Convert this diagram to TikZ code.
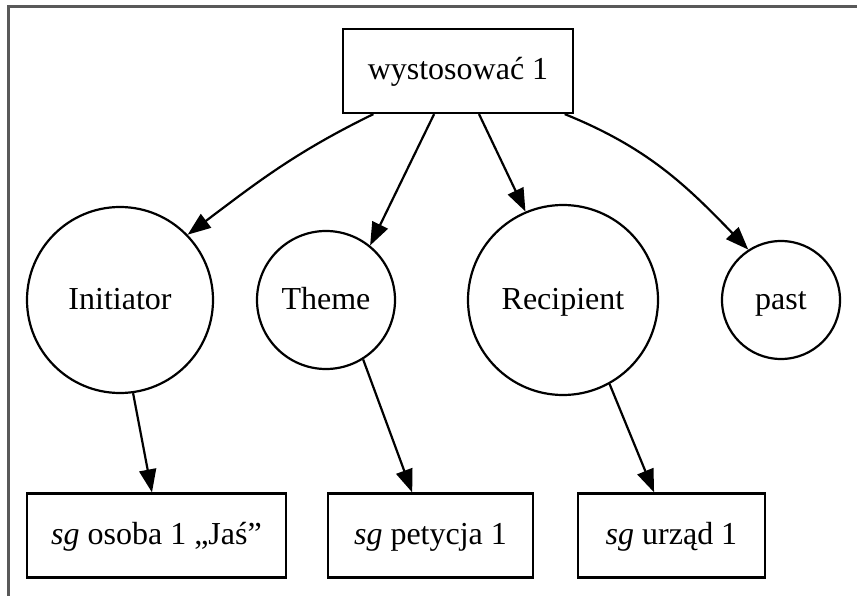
\documentclass[tikz,border=0pt]{standalone}
\usepackage{fontspec}
\setmainfont{Liberation Serif}
\usetikzlibrary{arrows.meta}
\begin{document}
\begin{tikzpicture}[x=1pt,y=-1pt,
  every node/.style={font=\fontsize{32}{38}\selectfont, inner sep=0pt,
    text height=20pt, text depth=2pt, line width=2.2pt},
  box/.style={draw, rectangle, minimum height=84pt},
  role/.style={draw, circle},
  edge/.style={line width=2.2pt, -{Triangle[length=23pt,width=17pt]}},
  frame/.style={draw=black!65, line width=3pt}]
\useasboundingbox (0,0) rectangle (857,596);
% partial frame along the left and top edges
\draw[frame] (8.5,596) -- (8.5,7) -- (857,7);

% predicate
\node[box, minimum width=230pt] (pred) at (458,71) {wystosować 1};

% semantic roles
\node[role, minimum size=186pt] (ini) at (120,300) {Initiator};
\node[role, minimum size=138pt] (thm) at (326,300) {Theme};
\node[role, minimum size=190pt] (rec) at (563,300) {Recipient};
\node[role, minimum size=118pt] (pst) at (781,300) {past};

% fillers
\node[box, minimum width=259pt] (b1) at (156.5,535.5) {\textit{sg} osoba 1 „Jaś”};
\node[box, minimum width=205pt] (b2) at (430.5,535.5) {\textit{sg} petycja 1};
\node[box, minimum width=187pt] (b3) at (671.5,535.5) {\textit{sg} urząd 1};

% predicate to roles
\draw[edge] (pred.207) to[out=206, in=37] (ini.44);
\draw[edge] (pred.241) -- (thm.51);
\draw[edge] (pred.296) -- (rec.113);
\draw[edge] (pred.-22) to[out=-22, in=134] (pst.123);

% roles to fillers
\draw[edge] (ini.-82) -- (b1.96);
\draw[edge] (thm.-58) -- (b2.113);
\draw[edge] (rec.-61) -- (b3.112);
\end{tikzpicture}
\end{document}
